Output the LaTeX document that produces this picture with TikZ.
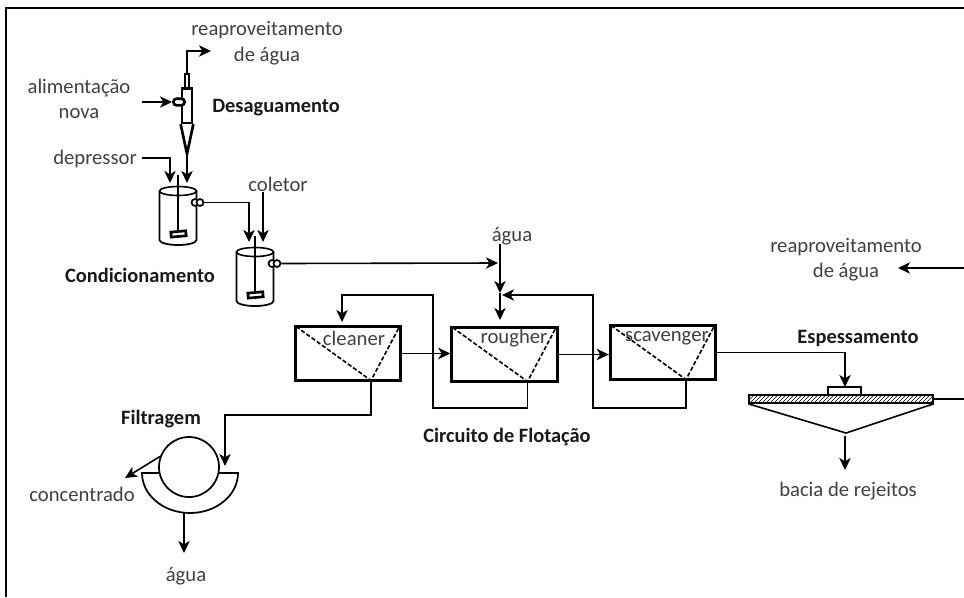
\documentclass[tikz,border=0pt]{standalone}
\usepackage{fontspec}
\setmainfont{Carlito}
\usetikzlibrary{arrows.meta}
\usetikzlibrary{patterns}
\definecolor[named]{LabelGray}{gray}{0.25}
\tikzset{
  lbl/.style={text=LabelGray,font=\fontsize{15.5}{18}\selectfont,inner sep=0pt,align=center},
  ttl/.style={text=black!90,font=\fontsize{15.3}{18}\selectfont\bfseries,inner sep=0pt},
  pipe/.style={line width=1.2pt},
  flow/.style={line width=1.2pt,-{Stealth[length=9pt,width=8.5pt,inset=2.5pt]}},
  cellbox/.style={draw,line width=2.3pt,minimum width=79pt,minimum height=41pt,inner sep=0pt},
  port/.style={draw,line width=1.3pt,fill=white,circle,minimum size=5.2pt,inner sep=0pt}
}
\tikzset{cell/.pic={
  \node[cellbox] (box) at (0,0) {};
  \coordinate (apex) at (23,27);
  \draw[line width=1.2pt,dash pattern=on 3.2pt off 1.6pt] (-52,-27) -- (apex) -- (51,-26);
}}
\tikzset{tank/.pic={
  \draw[line width=1.3pt] (-18.5,0) -- (-18.5,49) arc[start angle=180,end angle=0,x radius=18.5,y radius=5] -- (18.5,0);
  \draw[line width=1.2pt] (0,0) ellipse [x radius=18.5,y radius=4.5];
  \draw[pipe] (0,-16) -- (0,41);
  \draw[line width=2pt,fill=white,rotate around={5:(0,43)}] (-7,40.5) rectangle (8,45.5);
  \node[port] at (17,11.5) {};
  \node[port] (out) at (22,11.5) {};
}}
\begin{document}
\begin{tikzpicture}[x=0.75pt,y=-0.75pt]
  \useasboundingbox (0,0) rectangle (964,597);
  \draw[line width=1.1pt] (6,597) -- (6,8) -- (964,8);

  % desaguamento
  \node[lbl] (reaa) at (267,43) {reaproveitamento\\[1pt]de água};
  \node[lbl] (alim) at (79,99) {alimentação\\[1pt]nova};
  \node[ttl] at (276,108) {Desaguamento};
  \draw[line width=2pt] (185,88) -- (185,74) -- (189,74) -- (189,88);
  \node[draw,line width=2pt,minimum width=7.5pt,minimum height=26pt,inner sep=0pt] (cyc) at (187,105.5) {};
  \draw[line width=2pt] (cyc.south west) -- (187,154) -- (cyc.south east);
  \coordinate (cyctop) at (187,74);
  \coordinate (cyctip) at (187,157);
  \node[draw,line width=2pt,fill=white,rounded corners=2.5pt,minimum width=8.5pt,minimum height=5pt,inner sep=0pt] (cycin) at (179,102) {};
  \coordinate (reaatip) at (211,51);
  \coordinate (alimend) at (142,102);
  \draw[flow] (cyctop) |- (reaatip);
  \draw[flow] (alimend) -- (cycin.west);

  % condicionamento
  \pic (tanka) at (178,191) {tank};
  \pic (tankb) at (255,252) {tank};
  \node[lbl] (depr) at (95,159) {depressor};
  \node[lbl] (cole) at (278,184) {coletor};
  \node[ttl] at (140,275) {Condicionamento};
  \coordinate (depre) at (142,158);
  \coordinate (deprt) at (170,183);
  \coordinate (cyct) at (187,183);
  \coordinate (tbl) at (249,242);
  \coordinate (tbr) at (263,242);
  \coordinate (coleb) at (263,192);
  \draw[flow] (depre) -| (deprt);
  \draw[flow] (cyctip) -- (cyct);
  \draw[flow] (tankaout.east) -| (tbl);
  \draw[flow] (coleb) -- (tbr);

  % flotacao
  \pic (cleaner) at (348,353.5) {cell};
  \pic (rougher) at (504.5,354.5) {cell};
  \pic (scavenger) at (663,352.5) {cell};
  \node[lbl] at (354,338) {cleaner};
  \node[lbl] at (514,338) {rougher};
  \node[lbl] at (667,338) {scavenger};
  \node[lbl] (agua) at (512,236) {água};
  \node[ttl] at (507,437) {Circuito de Flotação};
  \coordinate (join) at (500,293);
  \coordinate (aguat) at (500,244);
  \coordinate (mixt) at (498,263);
  \coordinate (roughin) at (500,320);
  \coordinate (cleanin) at (342,322);
  \coordinate (rlow) at (433,408);
  \coordinate (rup) at (433,295);
  \coordinate (slow) at (593,408);
  \coordinate (supp) at (593,295);
  \coordinate (jointip) at (502,295);
  \draw[flow] (tankbout.east) -- (mixt);
  \draw[flow] (aguat) -- (join);
  \draw[flow] (join) -- (roughin);
  \draw[flow] (cleanerbox.east) -- (cleanerbox.east -| rougherbox.west);
  \draw[flow] (rougherbox.east) -- (rougherbox.east -| scavengerbox.west);
  \draw[flow] (rougherapex) |- (rlow) -- (rup) -| (cleanin);
  \draw[flow] (scavengerapex) |- (slow) -- (supp) -- (jointip);

  % filtragem
  \node[ttl] at (161,419) {Filtragem};
  \node[lbl] (conc) at (82,494) {concentrado};
  \node[lbl] (aguaf) at (186,576) {água};
  \draw[line width=1.3pt] (142,473) -- (238,473) arc[start angle=0,end angle=180,x radius=48,y radius=40] -- cycle;
  \node[draw,line width=1.3pt,fill=white,circle,minimum size=45pt,inner sep=0pt] (drum) at (189,467) {};
  \coordinate (filtin) at (225,466);
  \coordinate (filtup) at (225,415);
  \coordinate (conct) at (125,478);
  \coordinate (aguafs) at (184,513);
  \coordinate (aguaft) at (184,553);
  \draw[flow] (cleanerapex) |- (filtup) -- (filtin);
  \draw[flow] (drum.160) -- (conct);
  \draw[flow] (aguafs) -- (aguaft);

  % espessamento
  \node[ttl] at (858,338) {Espessamento};
  \node[lbl] (reab) at (846,259.5) {reaproveitamento\\[1pt]de água};
  \node[lbl] (bacia) at (848,491) {bacia de rejeitos};
  \node[draw,line width=1.2pt,fill=white,minimum width=24.5pt,minimum height=6pt,inner sep=0pt] (feedw) at (844.5,391) {};
  \node[draw,line width=1.2pt,pattern=north east lines,minimum width=138pt,minimum height=6pt,inner sep=0pt] (plate) at (841,399) {};
  \coordinate (cone) at (846,433);
  \coordinate (bacs) at (845,436);
  \coordinate (bact) at (845,470);
  \coordinate (reabs) at (964,268);
  \coordinate (reabt) at (898,268);
  \coordinate (edge) at (964,399);
  \coordinate (feedtip) at (845,387);
  \draw[flow] (scavengerbox.east) -| (feedtip);
  \draw[line width=1.2pt] (plate.south west) -- (cone) -- (plate.south east);
  \draw[flow] (bacs) -- (bact);
  \draw[flow] (reabs) -- (reabt);
  \draw[pipe] (plate.east) -- (edge);
\end{tikzpicture}
\end{document}
